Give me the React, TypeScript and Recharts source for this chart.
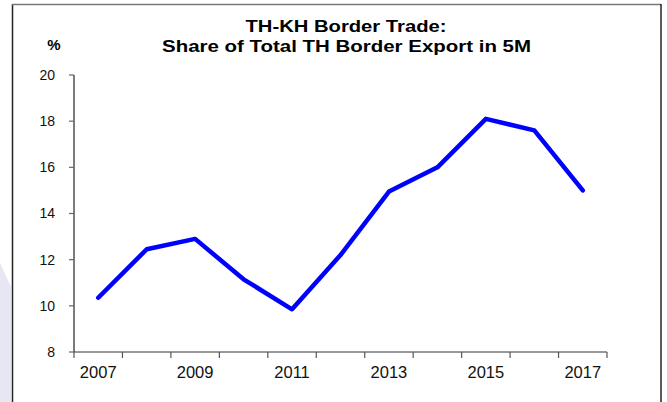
import React from "react";
import { LineChart, Line, XAxis, YAxis } from "recharts";

const years = [2007, 2008, 2009, 2010, 2011, 2012, 2013, 2014, 2015, 2016, 2017];
const sharePct = [10.35, 12.45, 12.9, 11.15, 9.85, 12.2, 14.95, 16.0, 18.1, 17.6, 15.0];
const yTicks = [8, 10, 12, 14, 16, 18, 20];
const xLabelYears = [2007, 2009, 2011, 2013, 2015, 2017];
const titleLines = ["TH-KH Border Trade:", "Share of Total TH Border Export in 5M"];
const unitLabel = "%";

const data = years.map((y, i) => ({ year: y, share: sharePct[i] }));
const boundaries = years.map((y) => y - 0.5).concat([years[years.length - 1] + 0.5]);
const xTicks = [...boundaries, ...xLabelYears].sort((a, b) => a - b);

const FONT = "'Liberation Sans', Arial, Helvetica, sans-serif";

function XTick(props: any) {
  const { x, y, payload } = props;
  const v = payload.value;
  if (v % 1 !== 0) {
    return <line x1={x} x2={x} y1={y} y2={y + 6} stroke="#555" strokeWidth={1.2} />;
  }
  if (xLabelYears.includes(v)) {
    return (
      <text x={x} y={y + 26} textAnchor="middle" fontSize={16.5} fontFamily={FONT} fill="#111">
        {v}
      </text>
    );
  }
  return <g />;
}

export default function App() {
  return (
    <div style={{ position: "absolute", left: 0, top: 0, width: 667, height: 402, background: "#fff", overflow: "hidden" }}>
      <svg width={667} height={402} style={{ position: "absolute", left: 0, top: 0 }}>
        <polygon points="0,263 11,287 11,402 0,402" fill="#e7e7f3" />
        <line x1={12.5} y1={4} x2={12.5} y2={402} stroke="#222" strokeWidth={1.5} />
        <line x1={12} y1={4.5} x2={661} y2={4.5} stroke="#777" strokeWidth={1.5} />
        <line x1={661} y1={4} x2={661} y2={402} stroke="#222" strokeWidth={1.5} />
      </svg>
      <div style={{ position: "absolute", left: 0, top: 0 }}>
        <LineChart width={667} height={402} data={data} margin={{ top: 75, right: 60, bottom: 20, left: 14 }}>
          <XAxis
            dataKey="year"
            type="number"
            domain={[2006.5, 2017.5]}
            ticks={xTicks}
            interval={0}
            tickLine={false}
            tickSize={0}
            tickMargin={0}
            tick={<XTick />}
            axisLine={{ stroke: "#333", strokeWidth: 1.2 }}
            height={30}
            allowDataOverflow
          />
          <YAxis
            type="number"
            domain={[8, 20]}
            ticks={yTicks}
            interval={0}
            width={60}
            tickSize={5}
            tickMargin={14}
            tickLine={{ stroke: "#666", strokeWidth: 1.2 }}
            axisLine={{ stroke: "#222", strokeWidth: 1.2 }}
            tick={{ fontSize: 14, fontFamily: FONT, fill: "#111" }}
            allowDataOverflow
          />
          <Line
            type="linear"
            dataKey="share"
            stroke="#0000ff"
            strokeWidth={4.5}
            strokeLinecap="round"
            strokeLinejoin="round"
            dot={false}
            activeDot={false}
            isAnimationActive={false}
          />
        </LineChart>
      </div>
      <svg width={667} height={402} style={{ position: "absolute", left: 0, top: 0, pointerEvents: "none" }}>
        <text x={346} y={32} textAnchor="middle" fontSize={17} fontWeight="bold" fontFamily={FONT} fill="#000" textLength={201} lengthAdjust="spacingAndGlyphs">
          {titleLines[0]}
        </text>
        <text x={346.5} y={52} textAnchor="middle" fontSize={17} fontWeight="bold" fontFamily={FONT} fill="#000" textLength={369} lengthAdjust="spacingAndGlyphs">
          {titleLines[1]}
        </text>
        <text x={54} y={50} textAnchor="middle" fontSize={15} fontWeight="bold" fontFamily={FONT} fill="#000">
          {unitLabel}
        </text>
      </svg>
    </div>
  );
}
